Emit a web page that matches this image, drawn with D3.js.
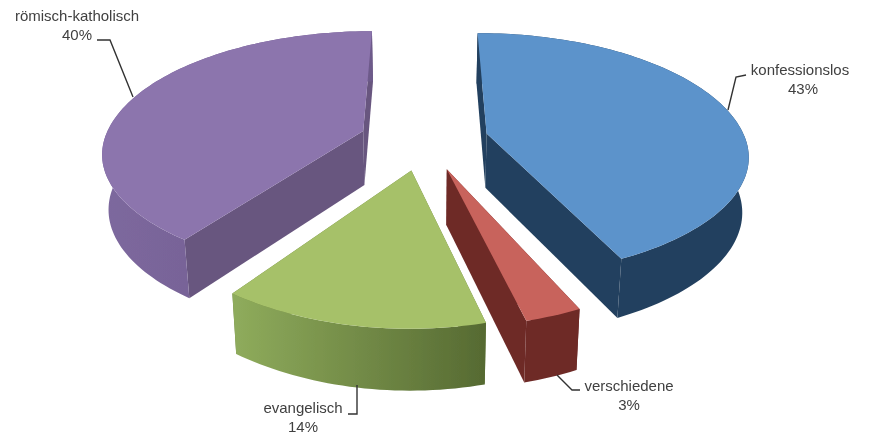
<!DOCTYPE html>
<html><head><meta charset="utf-8">
<script src="https://cdn.jsdelivr.net/npm/d3@7/dist/d3.min.js"></script>
<style>html,body{margin:0;background:#fff}svg{display:block}text{font-family:"Liberation Sans",Arial,sans-serif;font-size:15px;fill:#3f3f3f}</style>
</head><body><svg id="c" width="870" height="435"></svg>
<script>
const categories=["konfessionslos","verschiedene","evangelisch","römisch-katholisch"];
const values=[43,3,14,40];
const topColors=["#5c93cb","#c8635c","#a6c169","#8c74ad"];
const cutColors=["#24415f","#6e2a28","#6b8040","#68567f"];
const sideFrom=["#24415f","#6e2a28","#8fac5c","#7d689e"];
const sideTo=["#24415f","#6e2a28","#566a32","#6d5a8a"];
const W=870,H=435;
const xc=424,yc=140,A=259,B=119.5,P=0.17,EXPLODE=0.25,DEPTH=54.5,CONVERGE=0.98,NEAR_X=1.1;
const svg=d3.select("#c");
const defs=svg.append("defs");
defs.append("filter").attr("id","soft").append("feGaussianBlur").attr("stdDeviation",0.5);
const pieGen=d3.pie().sort(null).value(d=>d).startAngle(0).endAngle(2*Math.PI);
const arcs=pieGen(values);
const xScale=d3.scaleLinear().domain([0,1]).range([xc,xc+A]);
const yScale=d3.scaleLinear().domain([0,1]).range([yc,yc-B]);
function proj(u,v){const s=1/(1+P*v),sx=s>1?s-NEAR_X*(s-1)*(s-1):s;return [xScale(u*sx),yScale(v*s)];}
function drop(u,v){const s=1/(1+P*v),p=proj(u,v);return [xc+(p[0]-xc)*CONVERGE,p[1]+DEPTH*(1+(s-1)*0.5)];}
const line=d3.line();
const g=svg.append("g").attr("filter","url(#soft)");
arcs.forEach((a,i)=>{
  const mid=(a.startAngle+a.endAngle)/2,eu=EXPLODE*Math.sin(mid),ev=EXPLODE*Math.cos(mid);
  const n=Math.max(8,Math.round((a.endAngle-a.startAngle)*40));
  const ts=d3.range(n+1).map(k=>a.startAngle+(a.endAngle-a.startAngle)*k/n);
  const rim=ts.map(t=>[eu+Math.sin(t),ev+Math.cos(t)]);
  const c=[eu,ev];
  const top=rim.map(r=>proj(r[0],r[1])),bot=rim.map(r=>drop(r[0],r[1]));
  const pc=proj(...c),dc=drop(...c);
  const gid="side"+i;
  const gr=defs.append("linearGradient").attr("id",gid);
  gr.append("stop").attr("offset",0).attr("stop-color",sideFrom[i]);
  gr.append("stop").attr("offset",1).attr("stop-color",sideTo[i]);
  g.append("path").attr("d",line([pc,top[0],bot[0],dc])+"Z").attr("fill",cutColors[i]);
  g.append("path").attr("d",line([pc,top[n],bot[n],dc])+"Z").attr("fill",cutColors[i]);
  g.append("path").attr("d",line(top.concat(bot.slice().reverse()))+"Z").attr("fill",`url(#${gid})`);
  g.append("path").attr("d",line([pc].concat(top))+"Z").attr("fill",topColors[i]);
});
const labelAt=[[800,75],[629,391],[303,413],[77,21]];
const leaders=[
 [[728,110],[736,77],[746,75]],
 [[557,375],[572,390],[580,390]],
 [[357,385],[357,414],[348,414]],
 [[133,97],[110,40],[97,40]]];
const t=svg.append("g").attr("filter","url(#soft)");
categories.forEach((c,i)=>{
  t.append("path").attr("d",line(leaders[i])).attr("fill","none").attr("stroke","#333").attr("stroke-width",1.4);
  const lab=t.append("text").attr("text-anchor","middle").attr("x",labelAt[i][0]).attr("y",labelAt[i][1]);
  lab.append("tspan").attr("x",labelAt[i][0]).text(c);
  lab.append("tspan").attr("x",labelAt[i][0]+(i==0?3:0)).attr("dy",18.5).text(values[i]+"%");
});
</script></body></html>
